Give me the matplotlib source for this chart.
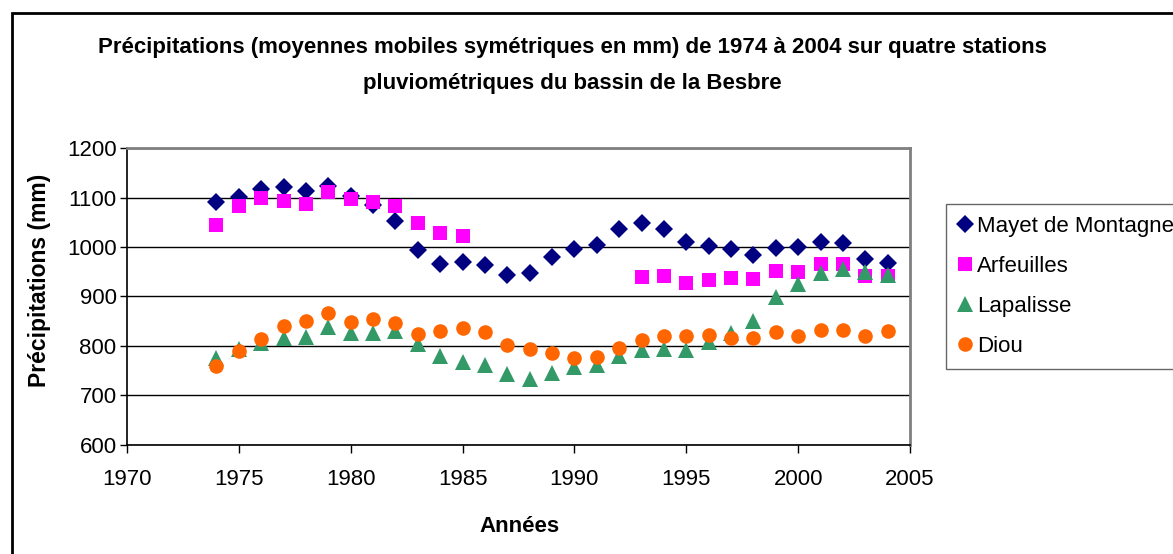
import matplotlib.pyplot as plt
from matplotlib.patches import Rectangle

plt.rcParams['font.family'] = ['Liberation Sans', 'DejaVu Sans']

# data (mm)
years = list(range(1974, 2005))
mayet = [1090, 1102, 1117, 1122, 1114, 1123, 1103, 1084, 1053, 994, 965, 969, 963, 943,
         947, 979, 996, 1004, 1036, 1048, 1037, 1011, 1003, 996, 983, 998, 1000, 1011,
         1009, 976, 967]
arfeuilles = [1044, 1083, 1099, 1092, 1087, 1112, 1096, 1090, 1082, 1048, 1029, 1023,
              None, None, None, None, None, None, None,
              939, 942, 928, 933, 938, 936, 951, 949, 965, 965, 942, 942]
lapalisse = [776, 793, 807, 817, 818, 839, 826, 827, 831, 804, 779, 768, 762, 743,
             734, 745, 758, 762, 780, 792, 793, 791, 808, 826, 851, 899, 926, 947,
             955, 949, 943]
diou = [760, 790, 815, 841, 851, 867, 849, 854, 846, 825, 830, 836, 829, 802,
        794, 785, 775, 777, 796, 812, 820, 821, 822, 816, 816, 829, 820, 833,
        833, 821, 831]

series = [
    ("Mayet de Montagne", mayet, "D", "#000080", 9),
    ("Arfeuilles", arfeuilles, "s", "#FF00FF", 10),
    ("Lapalisse", lapalisse, "^", "#339966", 12),
    ("Diou", diou, "o", "#FF6600", 10.5),
]

fig = plt.figure(figsize=(11.73, 5.54), dpi=100)
ax = fig.add_axes([127 / 1173, 1 - 445 / 554, (910 - 127) / 1173, (445 - 148) / 554])

for i, (name, vals, mk, col, ms) in enumerate(series):
    xs = [y for y, v in zip(years, vals) if v is not None]
    ys = [v for v in vals if v is not None]
    ax.plot(xs, ys, linestyle='none', marker=mk, color=col, markersize=ms,
            markeredgewidth=0, label=name, zorder=3 + i, clip_on=False)

ax.set_xlim(1970, 2005)
ax.set_ylim(600, 1200)
ax.set_xticks(range(1970, 2006, 5))
ax.set_yticks(range(600, 1201, 100))
ax.yaxis.grid(True, color='black', linewidth=1)
ax.set_axisbelow(True)
ax.tick_params(axis='both', direction='out', width=1, labelsize=16, color='black')
ax.tick_params(axis='x', length=5.5, pad=12)
ax.tick_params(axis='y', length=5, pad=2.5)
for s in ['left', 'bottom']:
    ax.spines[s].set_color('black')
    ax.spines[s].set_linewidth(1.2)
for s in ['top', 'right']:
    ax.spines[s].set_color('#808080')
    ax.spines[s].set_linewidth(2)

fig.text(519 / 1173, 1 - 527 / 554, "Années", ha='center', va='center',
         fontsize=16, fontweight='bold')
fig.text(40 / 1173, 1 - 280 / 554, "Précipitations (mm)", ha='center', va='center',
         rotation=90, fontsize=16.5, fontweight='bold')

fig.text(572 / 1173, 1 - 48 / 554, "Précipitations (moyennes mobiles symétriques en mm) de 1974 à 2004 sur quatre stations",
         ha='center', va='center', fontsize=16, fontweight='bold')
fig.text(572 / 1173, 1 - 84 / 554, "pluviométriques du bassin de la Besbre",
         ha='center', va='center', fontsize=16, fontweight='bold')

leg = fig.legend(loc='upper left', bbox_to_anchor=(946 / 1173, 1 - 204 / 554),
                 bbox_transform=fig.transFigure, fontsize=16, frameon=True,
                 fancybox=False, edgecolor='#404040', handlelength=0.6,
                 handletextpad=0.25, labelspacing=0.85, borderpad=0.55, borderaxespad=0)
leg.get_frame().set_linewidth(1)

# outer chart border
fig.patches.append(Rectangle((12 / 1173, -0.1), 1.2, 1 - 13 / 554 + 0.1,
                             transform=fig.transFigure, fill=False,
                             edgecolor='black', linewidth=2))

plt.savefig('out.png', dpi=100)
